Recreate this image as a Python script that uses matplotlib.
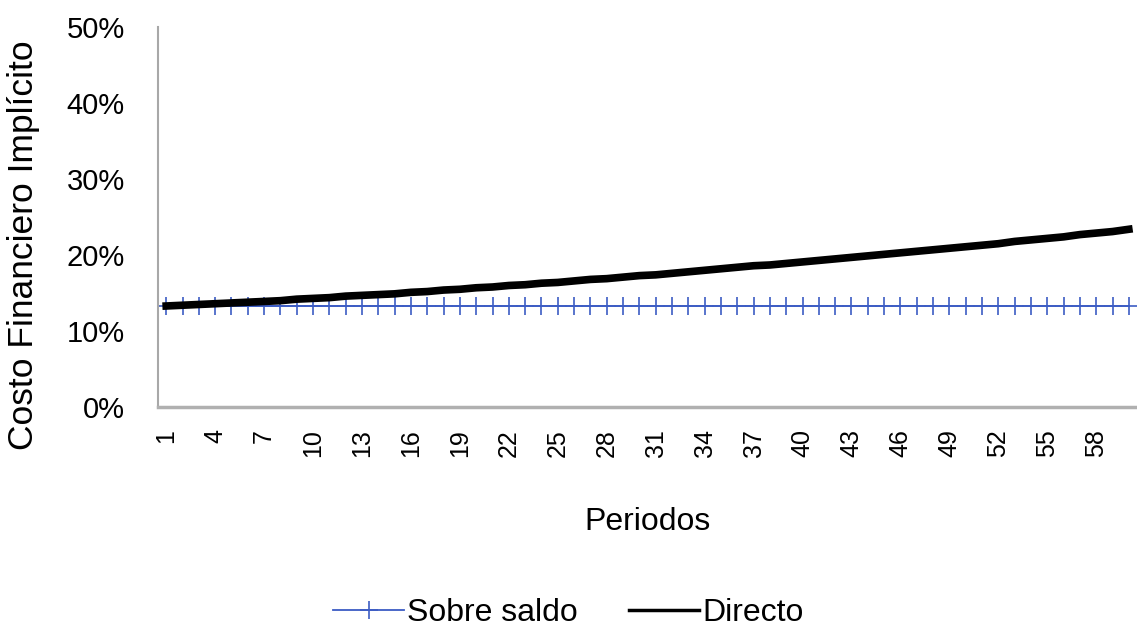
import matplotlib.pyplot as plt
from matplotlib.ticker import PercentFormatter

plt.rcParams['font.family'] = ['Liberation Sans', 'DejaVu Sans']

# Periodos 1..60
periodos = list(range(1, 61))

# Costo financiero implicito (%)
sobre_saldo = [13.3, 13.3, 13.3, 13.3, 13.3, 13.3, 13.3, 13.3, 13.3, 13.3,
               13.3, 13.3, 13.3, 13.3, 13.3, 13.3, 13.3, 13.3, 13.3, 13.3,
               13.3, 13.3, 13.3, 13.3, 13.3, 13.3, 13.3, 13.3, 13.3, 13.3,
               13.3, 13.3, 13.3, 13.3, 13.3, 13.3, 13.3, 13.3, 13.3, 13.3,
               13.3, 13.3, 13.3, 13.3, 13.3, 13.3, 13.3, 13.3, 13.3, 13.3,
               13.3, 13.3, 13.3, 13.3, 13.3, 13.3, 13.3, 13.3, 13.3, 13.3]
directo = [13.3, 13.4, 13.5, 13.6, 13.7, 13.8, 13.9, 14.0, 14.2, 14.3,
           14.4, 14.6, 14.7, 14.8, 14.9, 15.1, 15.2, 15.4, 15.5, 15.7,
           15.8, 16.0, 16.1, 16.3, 16.4, 16.6, 16.8, 16.9, 17.1, 17.3,
           17.4, 17.6, 17.8, 18.0, 18.2, 18.4, 18.6, 18.7, 18.9, 19.1,
           19.3, 19.5, 19.7, 19.9, 20.1, 20.3, 20.5, 20.7, 20.9, 21.1,
           21.3, 21.5, 21.8, 22.0, 22.2, 22.4, 22.7, 22.9, 23.1, 23.4]

tick_labels = [str(p) for p in periodos[::3]]

fig = plt.figure(figsize=(11.37, 6.33), dpi=100)
ax = fig.add_axes([0.139, 0.357, 0.861, 0.600])

ax.plot(periodos, sobre_saldo, color='#3c5cc4', lw=1.3, marker='+',
        markersize=13, mew=1.2, mec='#3c5cc4', label='Sobre saldo', zorder=2)
ax.plot(periodos, directo, color='black', lw=5.5, label='Directo', zorder=3)

ax.set_xlim(0.5, 60.5)
ax.set_ylim(0, 50)
ax.set_yticks([0, 10, 20, 30, 40, 50])
ax.yaxis.set_major_formatter(PercentFormatter(decimals=0))
ax.set_xticks(periodos[::3])
ax.set_xticklabels(tick_labels, rotation=90)
ax.tick_params(axis='y', length=0, labelsize=21, pad=24)
ax.tick_params(axis='x', length=0, labelsize=18, pad=16)

for s in ['top', 'right']:
    ax.spines[s].set_visible(False)
ax.spines['left'].set_color('#a8a8a8')
ax.spines['left'].set_linewidth(1.5)
ax.spines['bottom'].set_color('#b0b0b0')
ax.spines['bottom'].set_linewidth(2.5)

ax.set_ylabel('Costo Financiero Implícito', fontsize=25.5)
ax.yaxis.set_label_coords(-0.121, 0.426)
ax.set_xlabel('Periodos', fontsize=23)
ax.xaxis.set_label_coords(0.5, -0.262)

leg = fig.legend(loc='center', bbox_to_anchor=(0.5, 0.031), ncol=2, frameon=False,
                 fontsize=23, handlelength=2.2, handletextpad=0.1, columnspacing=1.6)
leg.get_lines()[1].set_linewidth(2.5)

fig.savefig('out.png', dpi=100)
